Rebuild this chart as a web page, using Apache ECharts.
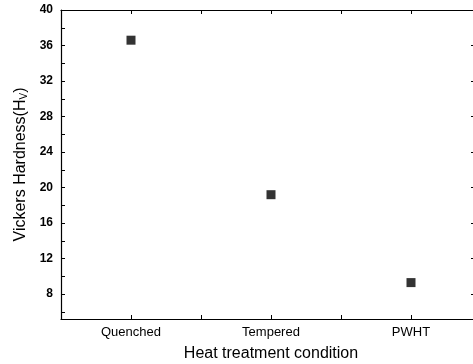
<!DOCTYPE html>
<html>
<head>
<meta charset="utf-8">
<script src="https://cdn.jsdelivr.net/npm/echarts@6/dist/echarts.min.js"></script>
<style>
  html, body { margin: 0; padding: 0; background: #fff; }
  #chart { width: 473px; height: 364px; }
</style>
</head>
<body>
<div id="chart"></div>
<script>
// data
const categories = ["Quenched", "Tempered", "PWHT"];
const hardness = [36.6, 19.2, 9.3];
const yLabels = [8, 12, 16, 20, 24, 28, 32, 36, 40];
const yTickMarks = [6, 8, 10, 12, 14, 16, 18, 20, 22, 24, 26, 28, 30, 32, 34, 36, 38, 40];

const points = categories.map((c, i) => [i + 1, hardness[i]]);
const font = "Liberation Sans, Arial, sans-serif";

const chart = echarts.init(document.getElementById("chart"));
const axisLine = { show: true, lineStyle: { color: "#000", width: 1.2 } };
const xTick = { show: true, inside: true, length: 4, lineStyle: { color: "#000" } };
const yTick = { show: true, inside: true, length: 4, lineStyle: { color: "#000" }, customValues: yTickMarks };

chart.setOption({
  animation: false,
  // the frame runs past the right edge of the picture
  grid: { left: 61, right: -8, top: 10, bottom: 45, outerBoundsMode: "none", containLabel: false },
  xAxis: [
    {
      type: "value",
      min: 0.5,
      max: 3.5,
      interval: 0.5,
      axisLine: axisLine,
      axisTick: xTick,
      splitLine: { show: false },
      axisLabel: {
        color: "#000",
        fontFamily: font,
        fontSize: 13,
        margin: 7,
        formatter: (v) => (Number.isInteger(v) ? categories[v - 1] : "")
      },
      name: "Heat treatment condition",
      nameLocation: "middle",
      nameGap: 27,
      nameTextStyle: { color: "#000", fontFamily: font, fontSize: 16 }
    },
    {
      type: "value",
      position: "top",
      min: 0.5,
      max: 3.5,
      interval: 0.5,
      axisLine: axisLine,
      axisTick: xTick,
      axisLabel: { show: false },
      splitLine: { show: false }
    }
  ],
  yAxis: [
    {
      type: "value",
      min: 5.2,
      max: 40,
      axisLine: axisLine,
      axisTick: yTick,
      splitLine: { show: false },
      axisLabel: {
        color: "#000",
        fontFamily: font,
        fontSize: 12,
        fontWeight: "bold",
        margin: 8,
        customValues: yLabels
      },
      name: "{a|Vickers Hardness(H}{s|V}{a|)}",
      nameLocation: "middle",
      nameGap: 31,
      nameTextStyle: {
        rich: {
          a: { color: "#000", fontFamily: font, fontSize: 16 },
          s: { color: "#000", fontFamily: font, fontSize: 10, verticalAlign: "bottom", padding: [7, 0, 0, 0] }
        }
      }
    },
    {
      type: "value",
      position: "right",
      min: 5.2,
      max: 40,
      axisLine: axisLine,
      axisTick: { show: true, inside: true, length: 10, lineStyle: { color: "#000" }, customValues: yLabels },
      axisLabel: { show: false },
      splitLine: { show: false }
    }
  ],
  series: [
    {
      type: "scatter",
      data: points,
      symbol: "rect",
      symbolSize: 9,
      itemStyle: { color: "#000" }
    }
  ]
});
</script>
</body>
</html>
